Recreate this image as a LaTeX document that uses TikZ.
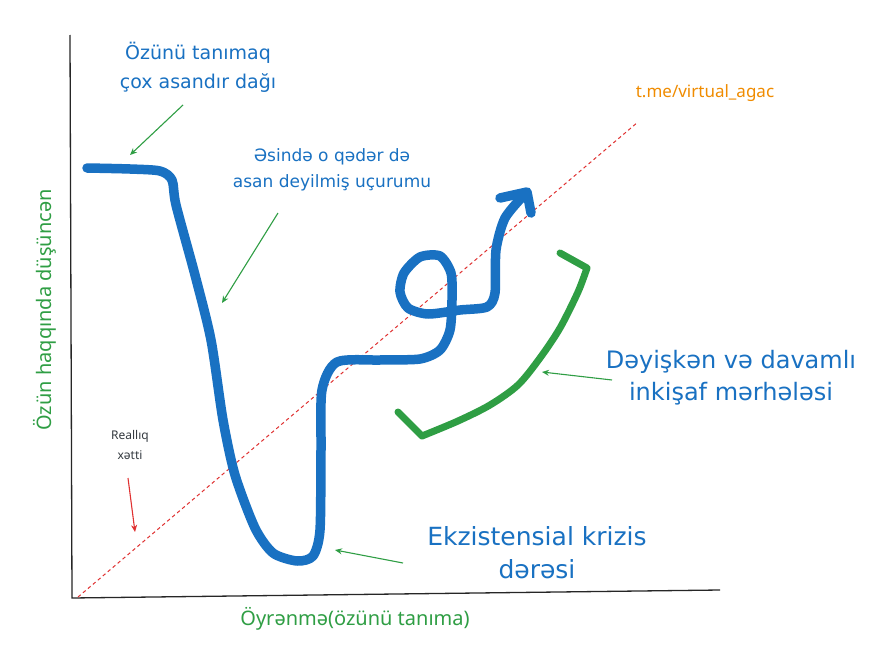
\documentclass[tikz,border=0pt]{standalone}
\usepackage{fontspec}
\setmainfont{Noto Sans}
\newfontfamily\handfont{DejaVu Sans}
\usetikzlibrary{arrows.meta, positioning}
\definecolor{cBlue}{HTML}{1971C2}
\definecolor{cGreen}{HTML}{2F9E44}
\definecolor{cOrange}{HTML}{F08C00}
\definecolor{cRed}{HTML}{E03131}
\definecolor{cText}{HTML}{343A40}

\begin{document}
\begin{tikzpicture}[x=1pt, y=-1pt,
  hand/.style={align=center, text=cBlue, inner sep=0pt},
  lbl/.style={text=cGreen, inner sep=0pt, font=\fontsize{20}{24}\selectfont},
  arr/.style={-{Stealth[length=7pt, width=6pt]}, line width=1.1pt, cGreen},
  stroke/.style={line width=#1, line cap=round, line join=round}
]
\useasboundingbox[fill=white] (0,0) rectangle (892,645);

% axes
\coordinate (origin) at (72,598);
\draw[line width=1.3pt, black!85] (70,35) -- (origin) -- (720,590);

% reality line
\draw[cRed, line width=1pt, dash pattern=on 3.5pt off 3pt] (78,597) -- (638,122);

% the road (blue)
\draw[cBlue, stroke=9.5pt] plot[smooth, tension=0.45] coordinates {
  (87,168) (130,169) (160,171) (172,180) (176,205) (195,275) (211,340)
  (223,420) (235,475) (255,528) (273,553) (297,561)
  (313,556) (320,530) (321,450) (322,390) (337,362) (380,360) (420,359)
  (440,350) (450,330) (452,300) (451,273) (440,256) (420,257) (404,273)
  (400,292) (408,308) (428,314) (460,310) (487,307) (495,293) (496,250)
  (505,218) (525,194)};
\draw[cBlue, stroke=9.5pt] (500,198) -- (527,192) -- (531,213);

% the growth (green)
\draw[cGreen, stroke=7pt] (560,253) -- (587,268)
  plot[smooth, tension=0.5] coordinates {(587,268) (578,292) (560,328)
  (540,358) (518,385) (490,405) (458,421) (422,436)} -- (398,412);

% labels
\node[hand, font=\handfont\fontsize{19}{29}\selectfont] (mountain) at (198,67)
  {Özünü tanımaq\\çox asandır dağı};
\node[hand, font=\handfont\fontsize{17}{26}\selectfont] (cliff) at (332,170)
  {Əsində o qədər də\\asan deyilmiş uçurumu};
\node[text=cOrange, inner sep=0pt, font=\fontsize{17}{20}\selectfont] (channel) at (705,93)
  {t.me/virtual\_agac};
\node[hand, font=\handfont\fontsize{24}{32}\selectfont] (phase) at (731,378)
  {Dəyişkən və davamlı\\inkişaf mərhələsi};
\node[hand, font=\handfont\fontsize{25}{33}\selectfont] (valley) at (537,553)
  {Ekzistensial krizis\\dərəsi};
\node[text=cText, align=center, inner sep=0pt, font=\fontsize{12}{20}\selectfont] (reality) at (130,445)
  {Reallıq\\xətti};
\node[lbl] (xlabel) at (355,619) {Öyrənmə(özünü tanıma)};
\node[lbl, rotate=90] (ylabel) at (45,310) {Özün haqqında düşüncən};

% pointers
\coordinate (mountainTip) at (130,155);
\coordinate (cliffTip) at (222,303);
\coordinate (phaseTip) at (542,372);
\coordinate (valleyTip) at (335,550);
\coordinate (realityTip) at (135,532);
\draw[arr] (183,105) -- (mountainTip);
\draw[arr] (278,213) -- (cliffTip);
\draw[arr] (612,380) -- (phaseTip);
\draw[arr] (403,563) -- (valleyTip);
\draw[arr, cRed] (128,478) -- (realityTip);
\end{tikzpicture}
\end{document}
